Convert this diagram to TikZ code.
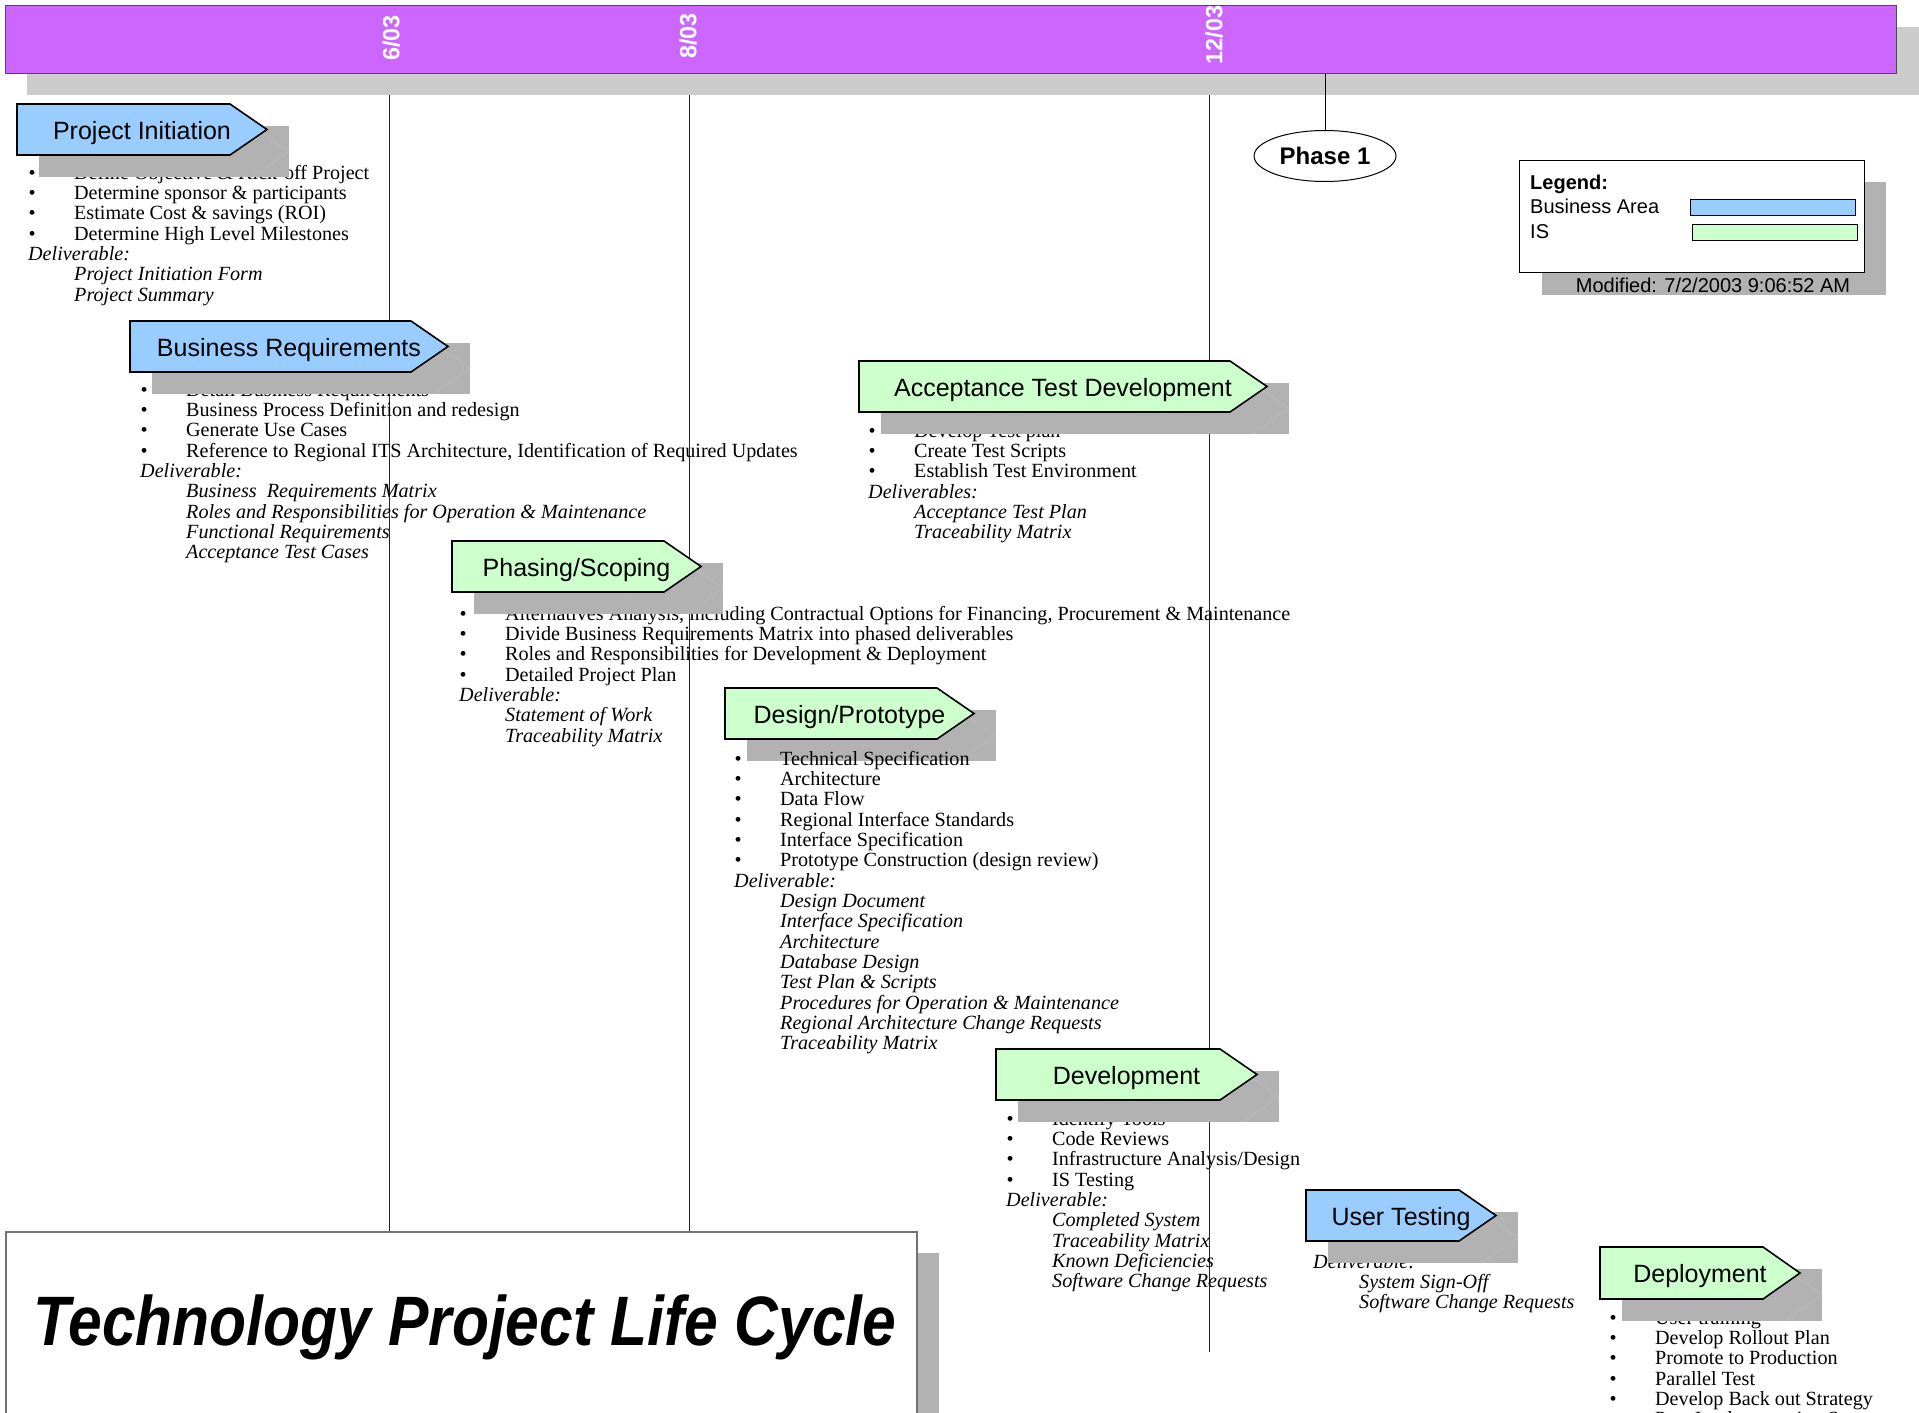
\documentclass[tikz,border=0pt]{standalone}
\usepackage{fontspec}
\setmainfont{Liberation Serif}
\newfontfamily\lsans{Liberation Sans}
\usetikzlibrary{shapes.geometric}
\definecolor{bizblue}{HTML}{99CCFF}
\definecolor{isgreen}{HTML}{CCFFCC}
\definecolor{barpurple}{HTML}{CC66FF}
\definecolor{shadowgray}{HTML}{B2B2B2}
\definecolor{barshadow}{HTML}{CCCCCC}
\newcommand\bl[1]{\makebox[46pt][l]{\hspace{0.5pt}\textbullet}#1}
\newcommand\dl[1]{\hspace*{46pt}\textit{#1}}
\tikzset{
  bodytext/.style={anchor=base west, inner sep=0pt, font=\fontsize{20.15}{20.4}\selectfont},
  chevtext/.style={anchor=base, inner sep=0pt, font=\lsans\fontsize{25}{25}\selectfont},
  datetext/.style={inner sep=0pt, text=white, rotate=90, font=\lsans\bfseries\fontsize{23.5}{23.5}\selectfont},
  sanstext/.style={anchor=base west, inner sep=0pt, font=\lsans\fontsize{20}{20}\selectfont},
  gridline/.style={black!85, line width=1pt},
}
\newcommand\chev[7]{%
  \fill[shadowgray] (#2+22,#3+22) rectangle (#4+22,#5+22);
  \draw[black!25, line width=0.5pt] (#4-15,#3+22) -- (#4+22,{(#3+#5)/2+22}) -- (#4-15,#5+22);
  \draw[fill=#6, line width=1.6pt, line join=miter] (#2,#3) -- (#4-37,#3) -- (#4,{(#3+#5)/2}) -- (#4-37,#5) -- (#2,#5) -- cycle;
  \node[chevtext] (#1) at ({(#2+#4)/2},{(#3+#5)/2+9.5}) {#7};
}
\newcommand\blk[4]{\foreach \t [count=\i from 0] in {#4} {\node[bodytext] (#1\i) at (#2,{#3+20.35*\i}) {\t};}}
\begin{document}
\begin{tikzpicture}[x=1pt,y=-1pt]
\useasboundingbox (0,0) rectangle (1919,1413);
% top bar
\fill[barshadow] (27,27) rectangle (1925,95);
\node[fill=barpurple, draw=black!70, line width=1.2pt, anchor=north west, minimum width=1891pt, minimum height=68pt, inner sep=0pt] (bar) at (5,5) {};
\node[datetext] (d1) at (391,38) {6/03};
\node[datetext] (d2) at (688,36) {8/03};
\node[datetext] (d3) at (1214,35) {12/03};
% grid lines
\coordinate (g1t) at (389,95); \coordinate (g1b) at (389,1231);
\coordinate (g2t) at (689,95); \coordinate (g2b) at (689,1231);
\coordinate (g3t) at (1209,95); \coordinate (g3b) at (1209,1352);
\draw[gridline] (g1t) -- (g1b);
\draw[gridline] (g2t) -- (g2b);
\draw[gridline] (g3t) -- (g3b);
% phase
\node[ellipse, draw, line width=1pt, minimum width=142pt, minimum height=51pt, inner sep=0pt, font=\lsans\bfseries\fontsize{24}{24}\selectfont] (phase) at (1325,156) {Phase 1};
\draw[black, line width=1pt] (phase.north |- bar.south) -- (phase.north);
% legend
\fill[shadowgray] (1542,182) rectangle (1886,295);
\node[draw, fill=white, line width=1pt, anchor=north west, minimum width=345pt, minimum height=112pt, inner sep=0pt] (legend) at (1519,160) {};
\node[sanstext, font=\lsans\bfseries\fontsize{20}{20}\selectfont] (legT) at (1530,189) {Legend:};
\node[sanstext] (legBA) at (1530,213) {Business Area};
\node[sanstext] (legIS) at (1530,238) {IS};
\node[draw, fill=bizblue, line width=1pt, anchor=north west, minimum width=165pt, minimum height=16pt, inner sep=0pt] (legB) at (1690,199) {};
\node[draw, fill=isgreen, line width=1pt, anchor=north west, minimum width=165pt, minimum height=16pt, inner sep=0pt] (legG) at (1692,224) {};
\node[sanstext, anchor=base] (mod) at (1713,292) {Modified: 7/2/2003 9:06:52 AM};
% Project Initiation
\blk{pi}{28}{179}{{\bl{Define Objective \& Kick-off Project}},{\bl{Determine sponsor \& participants}},{\bl{Estimate Cost \& savings (ROI)}},{\bl{Determine High Level Milestones}},{\textit{Deliverable:}},{\dl{Project Initiation Form}},{\dl{Project Summary}}}
\chev{PI}{17}{104}{267}{155}{bizblue}{Project Initiation}
% Business Requirements
\blk{br}{140}{396}{{\bl{Detail Business Requirements}},{\bl{Business Process Definition and redesign}},{\bl{Generate Use Cases}},{\bl{Reference to Regional ITS Architecture, Identification of Required Updates}},{\textit{Deliverable:}},{\dl{Business\ \ Requirements Matrix}},{\dl{Roles and Responsibilities for Operation \& Maintenance}},{\dl{Functional Requirements}},{\dl{Acceptance Test Cases}}}
\chev{BR}{130}{321}{448}{372}{bizblue}{Business Requirements}
% Acceptance Test Development
\blk{at}{868}{437}{{\bl{Develop Test plan}},{\bl{Create Test Scripts}},{\bl{Establish Test Environment}},{\textit{Deliverables:}},{\dl{Acceptance Test Plan}},{\dl{Traceability Matrix}}}
\chev{ATD}{859}{361}{1267}{412}{isgreen}{Acceptance Test Development}
% Phasing/Scoping
\blk{ps}{459}{620}{{\bl{Alternatives Analysis, including Contractual Options for Financing, Procurement \& Maintenance}},{\bl{Divide Business Requirements Matrix into phased deliverables}},{\bl{Roles and Responsibilities for Development \& Deployment}},{\bl{Detailed Project Plan}},{\textit{Deliverable:}},{\dl{Statement of Work}},{\dl{Traceability Matrix}}}
\chev{PS}{452}{541}{701}{592}{isgreen}{Phasing/Scoping}
% Design/Prototype
\chev{DP}{725}{688}{974}{739}{isgreen}{Design/Prototype}
\blk{dp}{734}{765}{{\bl{Technical Specification}},{\bl{Architecture}},{\bl{Data Flow}},{\bl{Regional Interface Standards}},{\bl{Interface Specification}},{\bl{Prototype Construction (design review)}},{\textit{Deliverable:}},{\dl{Design Document}},{\dl{Interface Specification}},{\dl{Architecture}},{\dl{Database Design}},{\dl{Test Plan \& Scripts}},{\dl{Procedures for Operation \& Maintenance}},{\dl{Regional Architecture Change Requests}},{\dl{Traceability Matrix}}}
% Development
\blk{dv}{1006}{1125}{{\bl{Identify Tools}},{\bl{Code Reviews}},{\bl{Infrastructure Analysis/Design}},{\bl{IS Testing}},{\textit{Deliverable:}},{\dl{Completed System}},{\dl{Traceability Matrix}},{\dl{Known Deficiencies}},{\dl{Software Change Requests}}}
\chev{DV}{996}{1049}{1257}{1100}{isgreen}{Development}
% User Testing
\blk{ut}{1313}{1268}{{\textit{Deliverable:}},{\dl{System Sign-Off}},{\dl{Software Change Requests}}}
\chev{UT}{1306}{1190}{1496}{1241}{bizblue}{User Testing}
% Deployment
\blk{dep}{1609}{1324}{{\bl{User training}},{\bl{Develop Rollout Plan}},{\bl{Promote to Production}},{\bl{Parallel Test}},{\bl{Develop Back out Strategy}},{\bl{Post Implementation Support}}}
\chev{DEP}{1600}{1247}{1800}{1299}{isgreen}{Deployment}
% Title
\fill[shadowgray] (27,1253) rectangle (939,1440);
\node[draw=black!55, fill=white, line width=1.5pt, anchor=north west, minimum width=911pt, minimum height=200pt, inner sep=0pt] (titlebox) at (5,1231) {};
\node[anchor=base, inner sep=0pt, font=\lsans\bfseries\itshape\fontsize{70}{70}\selectfont] (title) at (465,1345) {\scalebox{0.865}[1]{Technology Project Life Cycle}};
\end{tikzpicture}
\end{document}
